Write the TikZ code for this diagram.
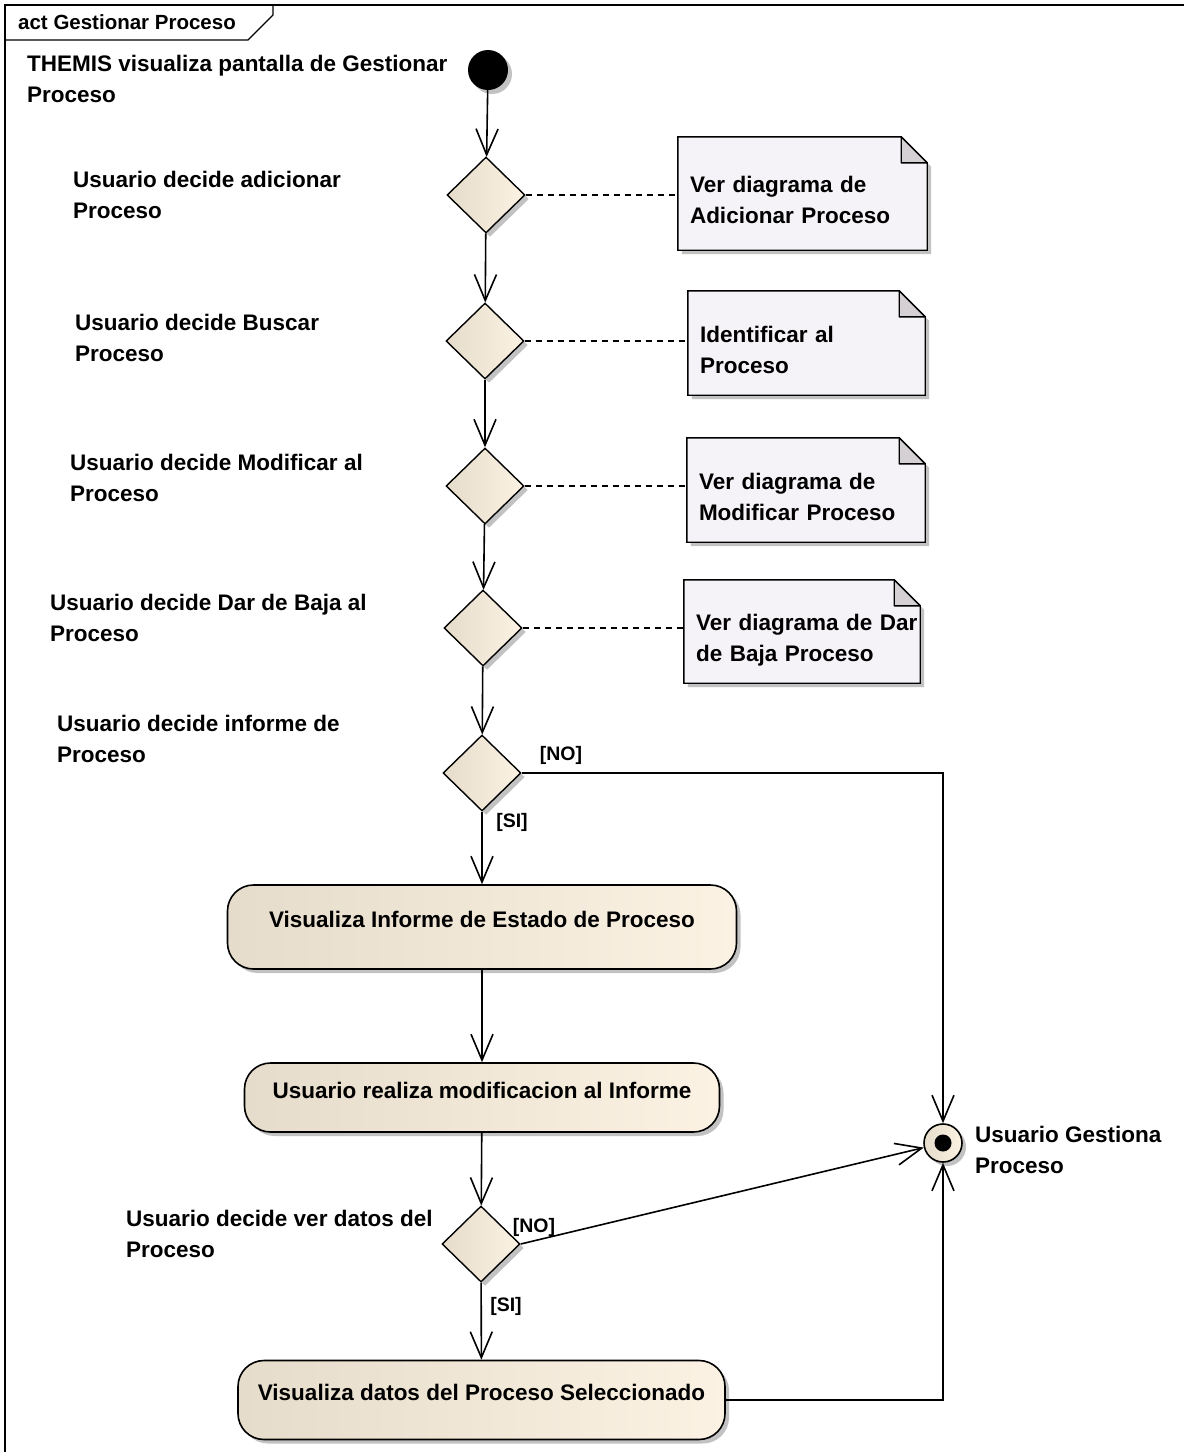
\documentclass[tikz,border=0pt]{standalone}
\usepackage{fontspec}
\setmainfont{Liberation Sans}
\usetikzlibrary{shapes.geometric,arrows.meta,shadows,calc,backgrounds}
\definecolor{decL}{HTML}{E6DCCB}
\definecolor{decR}{HTML}{FBF2E3}
\definecolor{noteFill}{HTML}{F6F3F8}
\definecolor{foldFill}{HTML}{D4D0D4}
\definecolor{shadowGray}{HTML}{C2C2C2}
\newcommand{\drawnotebox}[1]{%
  \fill[shadowGray] ($(#1.north west)+(4,4)$) -- ($(#1.north east)+(-22,4)$) -- ($(#1.north east)+(4,30)$) -- ($(#1.south east)+(4,4)$) -- ($(#1.south west)+(4,4)$) -- cycle;
  \filldraw[fill=noteFill, draw=black, line width=1.4pt] (#1.north west) -- ($(#1.north east)+(-26,0)$) -- ($(#1.north east)+(0,26)$) -- (#1.south east) -- (#1.south west) -- cycle;
  \filldraw[fill=foldFill, draw=black, line width=1.4pt, line join=round] ($(#1.north east)+(-26,0)$) -- ($(#1.north east)+(-26,26)$) -- ($(#1.north east)+(0,26)$) -- cycle;
}
\begin{document}
\begin{tikzpicture}[x=1pt,y=-1pt,
  every node/.style={font=\fontsize{22.5}{31}\selectfont\bfseries},
  myshadow/.style={drop shadow={shadow xshift=4pt,shadow yshift=-4pt,fill=shadowGray,opacity=1}},
  dec/.style={diamond, aspect=1, minimum width=78pt, minimum height=76pt, inner sep=0pt, draw=black, line width=1.4pt, left color=decL, right color=decR, myshadow},
  actbox/.style={rectangle, rounded corners=26pt, draw=black, line width=1.6pt, left color=decL, right color=decR, myshadow, inner sep=0pt, align=center, text height=16pt, text depth=15pt},
  initnode/.style={circle, fill=black, minimum size=40pt, inner sep=0pt, myshadow},
  finalnode/.style={circle, draw=black, line width=1.6pt, left color=decL, right color=decR, minimum size=38pt, inner sep=0pt, myshadow, path picture={\fill[black] (path picture bounding box.center) circle (8.5pt);}},
  guard/.style={font=\fontsize{19.5}{22}\selectfont\bfseries, inner sep=0pt},
  txt/.style={anchor=base west, align=left, inner sep=0pt},
  flow/.style={line width=1.6pt, -{Straight Barb[length=26pt,width=22pt]}},
  notelink/.style={line width=1.2pt, dash pattern=on 6pt off 5pt},
  notebox/.style={inner xsep=12pt, inner ysep=0pt, align=left, text height=31pt, text depth=33pt},
  frame/.style={line width=1.2pt}
]
\useasboundingbox (0,0) rectangle (1184,1452);
% frame
\draw[frame] (5,1452) -- (5,5) -- (1184,5);
\draw[frame] (5,40) -- (248,40) -- (273,15) -- (273,5);
\node[anchor=base west, inner sep=0pt, font=\fontsize{20.5}{24}\selectfont\bfseries] (title) at (18,29) {act Gestionar Proceso};

% main nodes
\node[initnode] (init) at (488,70) {};
\node[dec] (D1) at (486,195) {};
\node[dec] (D2) at (485,341) {};
\node[dec] (D3) at (485,486) {};
\node[dec] (D4) at (483,628) {};
\node[dec] (D5) at (482,773) {};
\node[actbox, minimum width=509pt, minimum height=84pt] (A1) at (482,927) {Visualiza Informe de Estado de Proceso};
\node[actbox, minimum width=475pt, minimum height=69pt] (A2) at (482,1097.5) {Usuario realiza modificacion al Informe};
\node[dec] (D6) at (481,1244) {};
\node[actbox, minimum width=487pt, minimum height=79pt] (A3) at (481.5,1400) {Visualiza datos del Proceso Seleccionado};
\node[finalnode] (F) at (943,1143) {};

% notes
\node[notebox, minimum height=113pt, text width=225pt] (N1) at (802.5,193.5) {Ver diagrama de\\Adicionar Proceso};
\node[notebox, minimum height=104pt, text width=213pt] (N2) at (806.5,343) {Identificar al\\Proceso};
\node[notebox, minimum height=104pt, text width=214pt] (N3) at (806,490) {Ver diagrama de\\Modificar Proceso};
\node[notebox, minimum height=103pt, text width=212pt] (N4) at (802,631.5) {\mbox{Ver diagrama de Dar}\\de Baja Proceso};
\begin{scope}[on background layer]
  \fill[white] (0,0) rectangle (1184,1452);
  \drawnotebox{N1}
  \drawnotebox{N2}
  \drawnotebox{N3}
  \drawnotebox{N4}
\end{scope}

% text labels (anchored at the baseline of their last line)
\node[txt] (L0) at (27,102) {THEMIS visualiza pantalla de Gestionar\\Proceso};
\node[txt] (L1) at (73,218) {Usuario decide adicionar\\Proceso};
\node[txt] (L2) at (75,361) {Usuario decide Buscar\\Proceso};
\node[txt] (L3) at (70,501) {Usuario decide Modificar al\\Proceso};
\node[txt] (L4) at (50,641) {Usuario decide Dar de Baja al\\Proceso};
\node[txt] (L5) at (57,762) {Usuario decide informe de\\Proceso};
\node[txt] (L6) at (126,1257) {Usuario decide ver datos del\\Proceso};
\node[txt] (L7) at (975,1173) {Usuario Gestiona\\Proceso};

% guards
\node[guard] (g1) at (561,755) {[NO]};
\node[guard] (g2) at (512,822) {[SI]};
\node[guard] (g3) at (534,1227) {[NO]};
\node[guard] (g4) at (506,1306) {[SI]};

% flows
\draw[flow] (init) -- (D1);
\draw[flow] (D1) -- (D2);
\draw[flow] (D2) -- (D3);
\draw[flow] (D3) -- (D4);
\draw[flow] (D4) -- (D5);
\draw[flow] (D5) -- (A1);
\draw[flow] (D5.east) -| (F.north);
\draw[flow] (A1) -- (A2);
\draw[flow] (A2) -- (D6);
\draw[flow] (D6.east) -- (F);
\draw[flow] (D6) -- (A3);
\draw[flow] (A3.east) -| (F.south);

% note links
\draw[notelink] (D1.east) -- (D1.east -| N1.west);
\draw[notelink] (D2.east) -- (D2.east -| N2.west);
\draw[notelink] (D3.east) -- (D3.east -| N3.west);
\draw[notelink] (D4.east) -- (D4.east -| N4.west);
\end{tikzpicture}
\end{document}
